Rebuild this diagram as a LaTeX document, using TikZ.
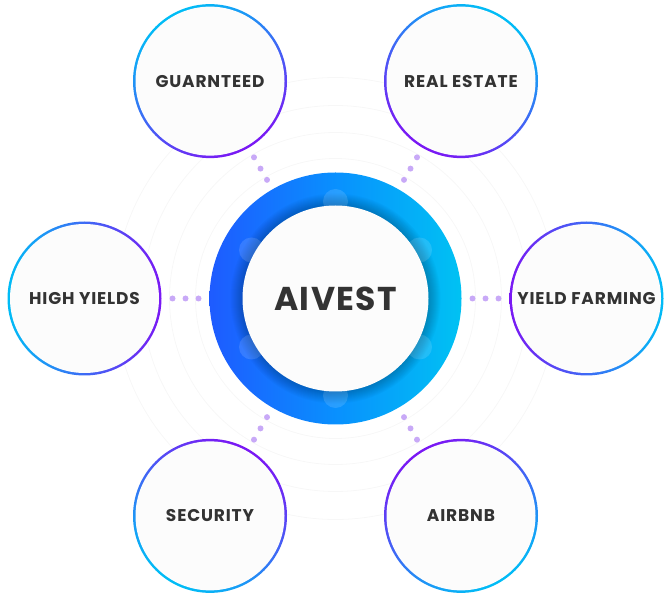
\documentclass[tikz,border=0pt]{standalone}
\usepackage{fontspec}
\setmainfont{Poppins}
\newfontfamily\labfont[LetterSpace=5]{Poppins}
\newfontfamily\corefont[LetterSpace=4]{Poppins}
\usetikzlibrary{calc}
\definecolor{cy}{HTML}{00BDF6}
\definecolor{pu}{HTML}{7A17F4}
\definecolor{rblue}{HTML}{1E5BFF}
\definecolor{rmid}{HTML}{0990FE}
\definecolor{rcyan}{HTML}{00C2F3}
\definecolor{dotc}{HTML}{C8A9F7}
\definecolor{txt}{HTML}{333333}
\definecolor{faint}{HTML}{F7F7F7}
\definecolor{inner}{HTML}{FCFCFC}
\tikzset{
  outerring/.style={circle, minimum size=154pt, inner sep=0pt},
  outerlabel/.style={circle, minimum size=149pt, inner sep=0pt, fill=inner,
     text=txt, font=\labfont\fontsize{17}{18}\selectfont\bfseries},
  dotmark/.style={circle, fill=dotc, minimum size=6pt, inner sep=0pt},
}
\begin{document}
\begin{tikzpicture}[x=1pt,y=1pt]
\useasboundingbox (0,0) rectangle (669,600);
\coordinate (C) at (335.5,301.5);
% faint background circles
\begin{scope}
\clip (0,0) rectangle (669,600);
\foreach \r in {140,166,193,221}
  \draw[faint, line width=0.8pt] (C) circle (\r);
\end{scope}
% dots
\foreach \a/\n in {120/a,60/b,180/c,0/d,240/e,300/f}{
  \foreach \d/\k in {137/1,150/2,163/3}
    \node[dotmark] (dot\n\k) at ($(C)+(\a:\d pt)$) {};
}
% outer circles
\foreach \a/\n/\t in {120/gu/GUARNTEED,60/re/REAL ESTATE,180/hy/HIGH YIELDS,0/yf/YIELD FARMING,240/se/SECURITY,300/ai/AIRBNB}{
  \pgfmathsetmacro{\sa}{\a-90}
  \node[outerring, top color=cy, bottom color=pu, shading angle=\sa] (\n) at ($(C)+(\a:251pt)$) {};
  \node[outerlabel] (\n t) at (\n) {\t};
}
% central ring
\node[circle, minimum size=252pt, inner sep=0pt, left color=rblue, right color=rcyan, middle color=rmid] (ring) at (C) {};
\foreach \i in {1,...,12}
  \fill[black, opacity=0.02] (C) circle ({93+\i});
\foreach \a in {90,30,-30,-90,150,210}
  \fill[white, opacity=0.13] ($(C)+(\a:97pt)$) circle (12.5);
\node[circle, minimum size=186pt, inner sep=0pt, fill=inner, text=txt,
  font=\corefont\fontsize{33}{34}\selectfont\bfseries] (core) at (C) {AIVEST};
\end{tikzpicture}
\end{document}
